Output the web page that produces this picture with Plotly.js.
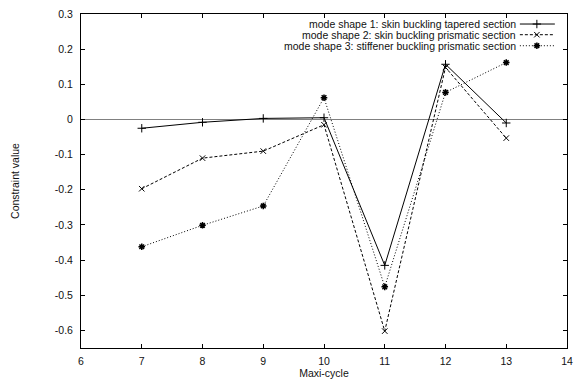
<!DOCTYPE html>
<html>
<head>
<meta charset="utf-8">
<script src="https://cdn.plot.ly/plotly-3.0.1.min.js"></script>
<style>html,body{margin:0;padding:0;background:#fff;}#chart{width:578px;height:380px;}</style>
</head>
<body>
<div id="chart"></div>
<script>
const cycles = [7, 8, 9, 10, 11, 12, 13];
const mode1 = [-0.025, -0.008, 0.003, 0.005, -0.415, 0.157, -0.010];
const mode2 = [-0.197, -0.110, -0.090, -0.015, -0.602, 0.148, -0.053];
const mode3 = [-0.362, -0.301, -0.246, 0.062, -0.476, 0.077, 0.162];
const seriesNames = [
  "mode shape 1: skin buckling tapered section",
  "mode shape 2: skin buckling prismatic section",
  "mode shape 3: stiffener buckling prismatic section"
];
const xTickVals = [6, 7, 8, 9, 10, 11, 12, 13, 14];
const xTickText = ["6", "7", "8", "9", "10", "11", "12", "13", "14"];
const yTickVals = [0.3, 0.2, 0.1, 0, -0.1, -0.2, -0.3, -0.4, -0.5, -0.6];
const yTickText = ["0.3", "0.2", "0.1", "0", "-0.1", "-0.2", "-0.3", "-0.4", "-0.5", "-0.6"];

const FONT = "Liberation Sans, Arial, Helvetica, sans-serif";
const styles = [
  {dash: "solid", symbol: "cross-thin-open", size: 6, mw: 1},
  {dash: "3px,2px", symbol: "x-thin-open", size: 5.5, mw: 1},
  {dash: "1px,2px", symbol: "asterisk-open", size: 5.5, mw: 1.5}
];
const seriesData = [mode1, mode2, mode3];

const traces = [];
seriesData.forEach((ys, i) => {
  traces.push({
    x: cycles, y: ys, type: "scatter", mode: "lines+markers",
    name: seriesNames[i], showlegend: false,
    line: {color: "#000", width: 1, dash: styles[i].dash},
    marker: {symbol: styles[i].symbol, size: styles[i].size, color: "#000",
             line: {color: "#000", width: styles[i].mw}}
  });
});

// custom legend (text right-aligned, sample on the right, like gnuplot)
const legX0 = 0.903, legX1 = 0.975, legXm = 0.938, legTextX = 0.897;
const legRows = [0.970, 0.938, 0.905];
const annotations = [];
seriesNames.forEach((nm, i) => {
  traces.push({
    x: [legX0, legX1], y: [legRows[i], legRows[i]], xaxis: "x2", yaxis: "y2",
    type: "scatter", mode: "lines", showlegend: false, hoverinfo: "skip",
    line: {color: "#000", width: 1, dash: styles[i].dash}
  });
  traces.push({
    x: [legXm], y: [legRows[i]], xaxis: "x2", yaxis: "y2",
    type: "scatter", mode: "markers", showlegend: false, hoverinfo: "skip",
    marker: {symbol: styles[i].symbol, size: styles[i].size, color: "#000",
             line: {color: "#000", width: styles[i].mw}}
  });
  annotations.push({
    xref: "paper", yref: "paper", x: legTextX, y: legRows[i],
    xanchor: "right", yanchor: "middle", showarrow: false,
    borderpad: 0, text: nm, font: {family: FONT, size: 10.5, color: "#111"}
  });
});

const layout = {
  width: 578, height: 380,
  margin: {l: 81, r: 11, t: 14, b: 32, pad: 0},
  paper_bgcolor: "#fff", plot_bgcolor: "#fff",
  font: {family: FONT, size: 10.5, color: "#111"},
  showlegend: false,
  xaxis: {
    range: [6, 14], tickvals: xTickVals, ticktext: xTickText,
    ticks: "inside", ticklen: 4, tickcolor: "#000", tickwidth: 1,
    showline: true, linecolor: "#000", linewidth: 1, mirror: "allticks",
    showgrid: false, zeroline: false, ticklabelstandoff: 3,
    title: {text: "Maxi-cycle", font: {family: FONT, size: 10.5, color: "#111"}, standoff: 4}
  },
  yaxis: {
    range: [-0.65, 0.3], tickvals: yTickVals, ticktext: yTickText,
    ticks: "inside", ticklen: 4, tickcolor: "#000", tickwidth: 1,
    showline: true, linecolor: "#000", linewidth: 1, mirror: "allticks",
    showgrid: false, zeroline: true, zerolinecolor: "#808080", zerolinewidth: 1.6,
    ticklabelstandoff: 5,
    title: {text: "Constraint value", font: {family: FONT, size: 10.5, color: "#111"}, standoff: 33}
  },
  xaxis2: {domain: [0, 1], range: [0, 1], anchor: "y2", overlaying: "x", visible: false, fixedrange: true},
  yaxis2: {domain: [0, 1], range: [0, 1], anchor: "x2", overlaying: "y", visible: false, fixedrange: true},
  annotations: annotations
};

Plotly.newPlot("chart", traces, layout, {staticPlot: true, displayModeBar: false});
</script>
</body>
</html>
